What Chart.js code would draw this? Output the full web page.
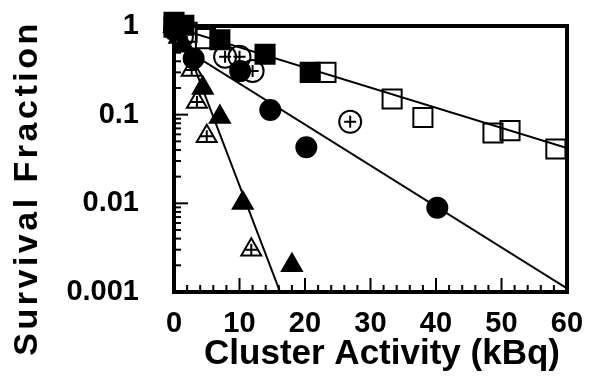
<!DOCTYPE html>
<html><head><meta charset="utf-8">
<script src="https://cdn.jsdelivr.net/npm/chart.js@4"></script>
<style>html,body{margin:0;padding:0;background:#fff}#wrap{width:591px;height:381px;position:relative}</style>
</head><body><div id="wrap"><canvas id="c"></canvas></div>
<script>
const xTickValues=[0,10,20,30,40,50,60];
const yTickValues=[0.001,0.01,0.1,1];
const yTickLabels=['0.001','0.01','0.1','1'];
const xTitle='Cluster Activity (kBq)';
const yTitle='Survival Fraction';

const filledSquareX=[0,1.5,7.0,13.9,20.8];
const filledSquareY=[1.1,1.02,0.70,0.48,0.30];
const openSquareX=[0,2.0,4.8,23.2,33.3,38.0,48.7,51.3,58.3];
const openSquareY=[0.97,0.85,0.72,0.30,0.15,0.093,0.062,0.066,0.041];
const filledCircleX=[0,3.0,10.1,14.7,20.2,40.2];
const filledCircleY=[0.9,0.43,0.31,0.113,0.043,0.0089];
const openCircleX=[1.2,7.8,10.0,12.0,26.9];
const openCircleY=[0.75,0.45,0.45,0.31,0.083];
const filledTriangleX=[0,1.5,4.4,7.0,10.5,18.0];
const filledTriangleY=[1.0,0.6,0.20,0.094,0.0101,0.0020];
const openTriangleX=[0.8,2.7,3.5,5.0,11.8];
const openTriangleY=[0.75,0.32,0.139,0.057,0.0030];
const fitSquareX=[0,60], fitSquareY=[0.97,0.042];
const fitCircleX=[0,60], fitCircleY=[0.65,0.0011];
const fitTriangleX=[0.7,16.2], fitTriangleY=[1,0.001];

const FONT='"Liberation Sans", Arial, Helvetica, sans-serif';
const pts=(xs,ys)=>xs.map((v,i)=>({x:v,y:ys[i]}));

function marker(xs,ys,style,r,filled){
  return {data:pts(xs,ys),pointStyle:style,pointRadius:r,pointHoverRadius:r,
    pointBackgroundColor:filled?'#000':'rgba(0,0,0,0)',pointBorderColor:'#000',pointBorderWidth:2,
    showLine:false,clip:false};
}
function fit(xs,ys){
  return {data:pts(xs,ys),showLine:true,pointRadius:0,borderColor:'#000',borderWidth:2,fill:false};
}
function noPad(s){s.paddingTop=0;s.paddingBottom=0;s.paddingLeft=0;s.paddingRight=0;}

const framePlugin={
  id:'frame',
  beforeDatasetsDraw(chart){
    const {ctx,chartArea:a,scales:{x,y}}=chart;
    ctx.save();
    ctx.strokeStyle='#000';ctx.lineWidth=2;
    const line=(x1,y1,x2,y2)=>{ctx.beginPath();ctx.moveTo(x1,y1);ctx.lineTo(x2,y2);ctx.stroke();};
    for(let v=0;v<=60;v+=2){const px=x.getPixelForValue(v);const len=(v%10===0)?14:7;line(px,a.bottom,px,a.bottom-len);}
    for(let d=0;d<yTickValues.length-1;d++){
      for(let m=1;m<=9;m++){const py=y.getPixelForValue(yTickValues[d]*m);const len=m===1?14:7;line(a.left,py,a.left+len,py);}
    }
    ctx.lineWidth=4;
    ctx.strokeRect(a.left,a.top,a.right-a.left,a.bottom-a.top);
    ctx.restore();
  },
  afterDraw(chart){
    const ctx=chart.ctx;
    ctx.save();
    ctx.fillStyle='#000';
    ctx.font='bold 35px '+FONT;
    ctx.textAlign='center';ctx.textBaseline='alphabetic';
    ctx.fillText(xTitle,382,364);
    ctx.font='bold 34px '+FONT;
    try{ctx.letterSpacing='3.5px';}catch(e){}
    ctx.translate(37,188);ctx.rotate(-Math.PI/2);
    ctx.fillText(yTitle,0,0);
    ctx.restore();
  }
};

new Chart(document.getElementById('c'),{
  type:'scatter',
  data:{datasets:[
    marker(filledSquareX,filledSquareY,'rect',13.5,true),
    marker(openSquareX,openSquareY,'rect',13.5,false),
    marker(openCircleX,openCircleY,'cross',6,false),
    marker(openCircleX,openCircleY,'circle',11,false),
    marker(filledCircleX,filledCircleY,'circle',10,true),
    marker(filledTriangleX,filledTriangleY,'triangle',11.5,true),
    marker(openTriangleX,openTriangleY,'cross',6,false),
    marker(openTriangleX,openTriangleY,'triangle',11.5,false),
    fit(fitSquareX,fitSquareY),
    fit(fitCircleX,fitCircleY),
    fit(fitTriangleX,fitTriangleY)
  ]},
  options:{
    responsive:true,maintainAspectRatio:false,animation:false,
    layout:{padding:{top:26,right:24,left:0,bottom:0}},
    plugins:{legend:{display:false},tooltip:{enabled:false}},
    scales:{
      x:{type:'linear',min:0,max:60,
        afterBuildTicks(s){s.ticks=xTickValues.map(v=>({value:v}));},
        afterFit(s){s.height=89;noPad(s);},
        grid:{display:false},border:{display:false},
        ticks:{color:'#000',padding:7,maxRotation:0,autoSkip:false,font:{family:FONT,size:29,weight:'bold',lineHeight:1.2},
          callback:(v)=>String(v)}
      },
      y:{type:'logarithmic',min:0.001,max:1,
        afterBuildTicks(s){s.ticks=yTickValues.map(v=>({value:v}));},
        afterFit(s){s.width=174;noPad(s);},
        grid:{display:false},border:{display:false},
        ticks:{color:'#000',padding:27,autoSkip:false,font:{family:FONT,size:29,weight:'bold'},
          callback:(v)=>{const i=yTickValues.findIndex(t=>Math.abs(t-v)/t<1e-6);return i>=0?yTickLabels[i]:'';}}
      }
    }
  },
  plugins:[framePlugin]
});
</script></body></html>
